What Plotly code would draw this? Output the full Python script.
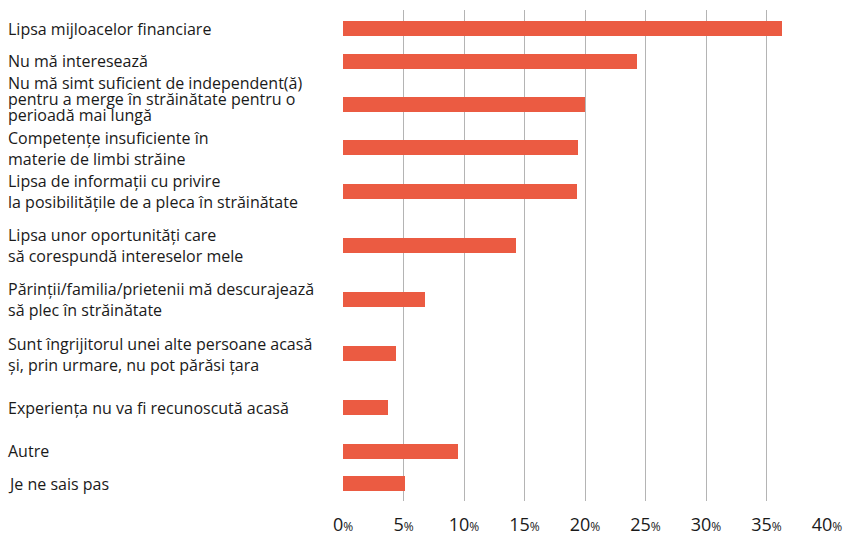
import numpy as np
import plotly.graph_objects as go

categories = [
    "Lipsa mijloacelor financiare",
    "Nu mă interesează",
    "Nu mă simt suficient de independent(ă)<br>pentru a merge în străinătate pentru o<br>perioadă mai lungă",
    "Competențe insuficiente în<br>materie de limbi străine",
    "Lipsa de informații cu privire<br>la posibilitățile de a pleca în străinătate",
    "Lipsa unor oportunități care<br>să corespundă intereselor mele",
    "Părinții/familia/prietenii mă descurajează<br>să plec în străinătate",
    "Sunt îngrijitorul unei alte persoane acasă<br>și, prin urmare, nu pot părăsi țara",
    "Experiența nu va fi recunoscută acasă",
    "Autre",
    "Je ne sais pas",
]
values = [36.3, 24.3, 20.0, 19.4, 19.3, 14.3, 6.8, 4.4, 3.7, 9.5, 5.1]
tick_vals = [0, 5, 10, 15, 20, 25, 30, 35, 40]
tick_labels = [f"{v}<span style='font-size:12px'>%</span>" for v in tick_vals]

# ---- layout (not data): row spacing, tight label line pitch (px, None = normal
# line spacing) and label vertical offsets (px)
row_gap = [3, 4, 4, 4, 5, 5, 5, 5, 4, 3]
line_pitch = [None, None, 16, None, None, None, None, None, None, None, None]
label_shift = [0, 0, -5, 1, 0, 0, 0, 1, 0, 0, 0]
slots = np.concatenate([[0], np.cumsum(row_gap)])

BAR = "#EB5B42"
TEXT = "#1a1a1a"
FONT = "Open Sans"

fig = go.Figure()
fig.add_trace(go.Bar(
    x=values, y=slots, orientation="h",
    marker=dict(color=BAR, line=dict(width=0)),
    width=1.385, hoverinfo="skip",
))

label_font = dict(family=FONT, size=16, color=TEXT)
for lab, s, pitch, shift in zip(categories, slots, line_pitch, label_shift):
    if pitch is None:
        parts = [(lab, shift)]
    else:
        lines = lab.split("<br>")
        n = len(lines)
        parts = [(ln, (i - (n - 1) / 2) * pitch + shift) for i, ln in enumerate(lines)]
    for txt, off in parts:
        fig.add_annotation(
            x=-0.694, xref="paper", y=s, yref="y", yshift=-off,
            text=txt, showarrow=False, xanchor="left", yanchor="middle",
            align="left", borderpad=0, font=label_font,
        )

fig.update_layout(
    width=848, height=537,
    margin=dict(l=343, r=21, t=10, b=36, autoexpand=False),
    paper_bgcolor="white", plot_bgcolor="white",
    showlegend=False,
    bargap=0,
)
fig.update_xaxes(
    range=[0, 40], tickvals=tick_vals, ticktext=tick_labels,
    showgrid=True, gridcolor="#b4b4b4", gridwidth=1,
    zeroline=False, showline=False, ticks="",
    tickfont=dict(family=FONT, size=18, color=TEXT),
    ticklabelstandoff=11, automargin=False,
)
fig.update_yaxes(
    range=[slots[-1] + 1.615, -1.708],
    showgrid=False, zeroline=False, showline=False,
    showticklabels=False, ticks="", automargin=False,
)

fig.write_html("out.html")
